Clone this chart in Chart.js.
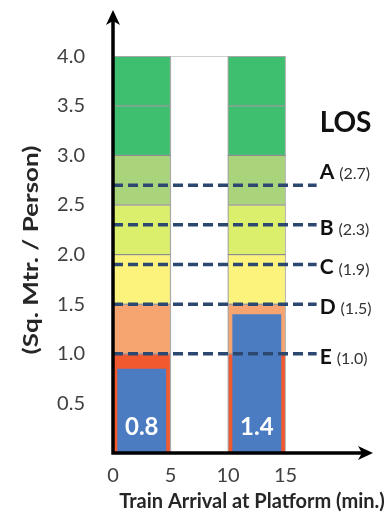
<!DOCTYPE html>
<html><head><meta charset="utf-8">
<script src="https://cdn.jsdelivr.net/npm/chart.js@4.4.0/dist/chart.umd.min.js"></script>
<style>html,body{margin:0;padding:0;background:#fff;overflow:hidden;} #wrap{width:388px;height:517px;position:relative;}</style>
</head><body><div id="wrap"><canvas id="c"></canvas></div>
<script>
// ---- data ----
const xTicks = [0, 5, 10, 15];
const yTicks = [0.5, 1.0, 1.5, 2.0, 2.5, 3.0, 3.5, 4.0];
const columnStarts = [0, 10];
const columnEnds = [5, 15];
const bandBottoms = [0, 1.0, 1.5, 2.0, 2.5, 3.0, 3.5];
const bandTops = [1.0, 1.5, 2.0, 2.5, 3.0, 3.5, 4.0];
const spaceValues = [0.85, 1.4];
const spaceLabels = ['0.8', '1.4'];
const losGrades = ['A', 'B', 'C', 'D', 'E'];
const losThresholds = [2.7, 2.3, 1.9, 1.5, 1.0];
const losLineEnd = 17.7;
const xMax = 22.6;
const yMax = 4.466;
const xTitle = 'Train Arrival at Platform (min.)';
const yTitle = '(Sq. Mtr. / Person)';

// ---- styles ----
const bandColors = ['#f2592f', '#f6a570', '#fcf37c', '#dcef6c', '#aad47c', '#3ebf70', '#3ebf70'];
const spaceColor = '#4b7cc2';
const losColor = '#2c4870';
const FONT = 'Lato, "Open Sans", sans-serif';

const centers = columnStarts.map((s, j) => (s + columnEnds[j]) / 2);

const datasets = [];
datasets.push({
  type: 'bar', label: 'gap',
  data: [{x: (columnEnds[0] + columnStarts[1]) / 2, y: [0, bandTops[bandTops.length - 1]]}],
  backgroundColor: '#ffffff', borderColor: '#cfcfcf', borderWidth: 1, borderSkipped: false,
  grouped: false, barPercentage: 1, categoryPercentage: 1, order: 5
});
bandBottoms.forEach((b, i) => {
  datasets.push({
    type: 'bar', label: 'band' + i,
    data: centers.map(c => ({x: c, y: [b, bandTops[i]]})),
    backgroundColor: bandColors[i], borderColor: 'rgba(60,60,60,0.45)', borderWidth: 1, borderSkipped: false,
    grouped: false, barPercentage: 1, categoryPercentage: 1, order: 4
  });
});
datasets.push({
  type: 'bar', label: 'space',
  data: centers.map((c, j) => ({x: c, y: [0, spaceValues[j]]})),
  backgroundColor: spaceColor, borderWidth: 0,
  grouped: false, barPercentage: 0.85, categoryPercentage: 1, order: 3
});
losThresholds.forEach((v, i) => {
  datasets.push({
    type: 'line', label: losGrades[i],
    data: [{x: 0, y: v}, {x: losLineEnd, y: v}],
    borderColor: losColor, borderWidth: 3.5, borderDash: [10, 5], borderCapStyle: 'butt',
    pointRadius: 0, fill: false, order: 1
  });
});

const decor = {
  id: 'decor',
  afterDatasetsDraw(chart) {
    const {ctx, chartArea: a, scales: {x, y}} = chart;
    const x0 = x.getPixelForValue(0), y0 = y.getPixelForValue(0);
    ctx.save();
    // axes
    ctx.strokeStyle = '#000'; ctx.fillStyle = '#000'; ctx.lineWidth = 3.5;
    ctx.beginPath();
    ctx.moveTo(x0, y0 + 1.7); ctx.lineTo(x0, a.top + 10);
    ctx.moveTo(x0 - 1.7, y0); ctx.lineTo(a.right - 10, y0);
    ctx.stroke();
    ctx.beginPath();
    ctx.moveTo(x0, a.top); ctx.lineTo(x0 - 7, a.top + 15); ctx.lineTo(x0, a.top + 11); ctx.lineTo(x0 + 7, a.top + 15); ctx.closePath();
    ctx.fill();
    ctx.beginPath();
    ctx.moveTo(a.right, y0); ctx.lineTo(a.right - 15, y0 - 7); ctx.lineTo(a.right - 11, y0); ctx.lineTo(a.right - 15, y0 + 7); ctx.closePath();
    ctx.fill();
    // value labels in blue bars
    ctx.fillStyle = '#ffffff';
    ctx.font = 'bold 24px ' + FONT;
    ctx.textAlign = 'center'; ctx.textBaseline = 'middle';
    centers.forEach((c, j) => ctx.fillText(spaceLabels[j], x.getPixelForValue(c), y0 - 26));
    // LOS labels
    const lx = x.getPixelForValue(losLineEnd) + 3;
    ctx.fillStyle = '#111';
    ctx.textAlign = 'left'; ctx.textBaseline = 'middle';
    ctx.font = 'bold 28px ' + FONT;
    ctx.fillText('LOS', lx, y.getPixelForValue(3.33));
    losThresholds.forEach((v, i) => {
      const yy = y.getPixelForValue(v) + (i === 0 ? -13 : 3);
      ctx.font = 'bold 21px ' + FONT;
      ctx.fillStyle = '#111';
      ctx.fillText(losGrades[i], lx, yy);
      const w = ctx.measureText(losGrades[i]).width;
      ctx.font = '16px ' + FONT;
      ctx.fillStyle = '#333';
      ctx.fillText('(' + v.toFixed(1) + ')', lx + w + 5, yy + 2);
    });
    // x title
    ctx.textAlign = 'center';
    ctx.font = 'bold 20px ' + FONT;
    ctx.fillStyle = '#262626';
    ctx.fillText(xTitle, 252, 502);
    // y title
    ctx.translate(32, 250);
    ctx.rotate(-Math.PI / 2);
    ctx.scale(1.3, 1);
    ctx.fillText(yTitle, 0, 0);
    ctx.restore();
  }
};

new Chart(document.getElementById('c'), {
  type: 'bar',
  data: {datasets},
  options: {
    responsive: true, maintainAspectRatio: false, animation: false,
    layout: {padding: {left: 0, right: 15, top: 10, bottom: 0}},
    plugins: {legend: {display: false}, tooltip: {enabled: false}},
    scales: {
      x: {
        type: 'linear', min: 0, max: xMax, offset: false,
        grid: {display: false}, border: {display: false},
        afterBuildTicks: s => { s.ticks = xTicks.map(v => ({value: v})); },
        afterFit: s => { s.height = 64; s.paddingLeft = 0; s.paddingRight = 0; },
        ticks: {color: '#404040', font: {family: FONT, size: 20}, padding: 3, maxRotation: 0, autoSkip: false}
      },
      y: {
        type: 'linear', min: 0, max: yMax,
        grid: {display: false}, border: {display: false},
        afterBuildTicks: s => { s.ticks = yTicks.map(v => ({value: v})); },
        afterFit: s => { s.width = 113; s.paddingTop = 0; s.paddingBottom = 0; },
        ticks: {color: '#404040', font: {family: FONT, size: 20}, padding: 20,
                callback: v => Number(v).toFixed(1)}
      }
    }
  },
  plugins: [decor]
});
</script></body></html>
